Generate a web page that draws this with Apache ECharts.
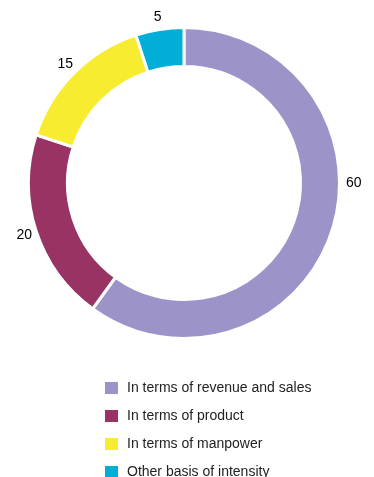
<!DOCTYPE html>
<html>
<head>
<meta charset="utf-8">
<script src="https://cdn.jsdelivr.net/npm/echarts@6/dist/echarts.min.js"></script>
<style>
  html, body { margin: 0; padding: 0; background: #ffffff; }
  #chart { width: 374px; height: 477px; }
</style>
</head>
<body>
<div id="chart"></div>
<script>
// Bases used to express intensity, share of responses
const categories = [
  'In terms of revenue and sales',
  'In terms of product',
  'In terms of manpower',
  'Other basis of intensity'
];
const values = [60, 20, 15, 5];
const colors = ['#9c94c8', '#993363', '#f7ec2f', '#00aed8'];

const CENTER = [184, 183];
const RADIUS = [116.5, 155.5];
const LABEL_RADIUS = 168;

// mid angle of each slice, clockwise from 12 o'clock, in radians
const total = values.reduce((s, v) => s + v, 0);
const midAngles = [];
values.reduce((acc, v) => {
  midAngles.push((acc + v / 2) / total * Math.PI * 2);
  return acc + v;
}, 0);

const chart = echarts.init(document.getElementById('chart'), null, { renderer: 'canvas' });

chart.setOption({
  animation: false,
  color: colors,
  legend: {
    orient: 'vertical',
    left: 103,
    top: 380,
    height: 120,
    padding: 0,
    itemWidth: 15,
    itemHeight: 14,
    itemGap: 12,
    icon: 'rect',
    selectedMode: false,
    textStyle: {
      fontFamily: 'Liberation Sans, Arial, sans-serif',
      fontSize: 14,
      color: '#222222',
      padding: [0, 0, 0, 3]
    },
    data: categories
  },
  series: [{
    type: 'pie',
    center: CENTER,
    radius: RADIUS,
    startAngle: 90,
    clockwise: true,
    avoidLabelOverlap: false,
    itemStyle: { borderColor: '#ffffff', borderWidth: 3 },
    label: {
      show: true,
      position: 'outside',
      formatter: '{c}',
      fontFamily: 'Liberation Sans, Arial, sans-serif',
      fontSize: 14,
      color: '#000000'
    },
    labelLine: { show: false, length: 8, length2: 0 },
    labelLayout: function (p) {
      // the largest slice carries its value beside the middle of its outer edge
      if (p.dataIndex === 0) {
        return {
          x: p.rect.x + p.rect.width + 5,
          y: p.rect.y + p.rect.height / 2,
          align: 'left',
          verticalAlign: 'middle'
        };
      }
      // the others sit centred just outside the ring on their mid angle
      const a = midAngles[p.dataIndex];
      return {
        x: CENTER[0] + LABEL_RADIUS * Math.sin(a),
        y: CENTER[1] - LABEL_RADIUS * Math.cos(a),
        align: 'center',
        verticalAlign: 'middle'
      };
    },
    emphasis: { disabled: true },
    data: categories.map((name, i) => ({ name: name, value: values[i] }))
  }]
});
</script>
</body>
</html>
